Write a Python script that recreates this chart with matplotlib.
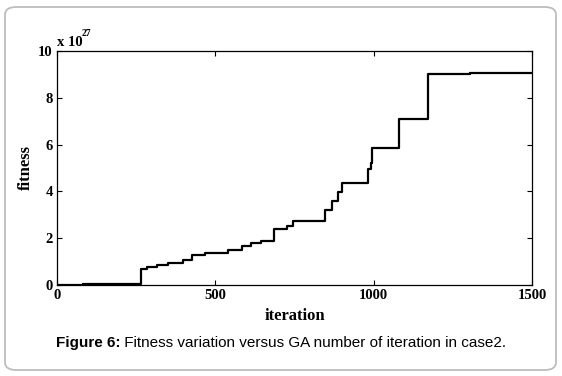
import matplotlib
matplotlib.use("Agg")
import matplotlib.pyplot as plt
from matplotlib.patches import FancyBboxPatch

# step data: iteration at which value changes, fitness value (x 1e27)
step_iters = [0, 83, 265, 285, 315, 350, 398, 425, 467, 541, 583, 614, 644,
              685, 725, 744, 845, 867, 888, 901, 981, 990, 994, 1080, 1172, 1303, 1500]
step_vals = [0.0, 0.05, 0.67, 0.78, 0.85, 0.92, 1.07, 1.28, 1.36, 1.50, 1.65, 1.78, 1.88,
             2.38, 2.52, 2.75, 3.20, 3.58, 3.97, 4.35, 4.95, 5.20, 5.84, 7.10, 9.02, 9.07, 9.07]

xticks = [0, 500, 1000, 1500]
yticks = [0, 2, 4, 6, 8, 10]

W, H = 562, 376
fig = plt.figure(figsize=(W / 100, H / 100), dpi=100)

# rounded border frame
border = FancyBboxPatch((5 / W, 6 / H), (W - 11) / W, (H - 13) / H,
                        boxstyle="round,pad=0,rounding_size=0.02",
                        transform=fig.transFigure, facecolor="white",
                        edgecolor="#bdbdbd", lw=1.3, zorder=-10)
fig.patches.append(border)

ax = fig.add_axes([57 / W, 1 - 285 / H, (532 - 57) / W, (285 - 51) / H], zorder=5)
ax.set_facecolor("none")
ax.step(step_iters, step_vals, where="post", color="black", lw=1.6)
ax.set_xlim(0, 1500)
ax.set_ylim(0, 10)
ax.set_xticks(xticks)
ax.set_yticks(yticks)
serif = "Liberation Serif"
ax.set_xticklabels([str(t) for t in xticks], fontfamily=serif, fontweight="bold", fontsize=10.5)
ax.set_yticklabels([str(t) for t in yticks], fontfamily=serif, fontweight="bold", fontsize=10.5)
ax.tick_params(direction="in", length=3.8, width=0.8, top=True, right=True, pad=3)
for s in ax.spines.values():
    s.set_linewidth(0.9)
ax.set_xlabel("iteration", fontfamily=serif, fontweight="bold", fontsize=12, labelpad=4)
ax.set_ylabel("fitness", fontfamily=serif, fontweight="bold", fontsize=12, labelpad=3)

# offset text
fig.text(57 / W, 1 - 42 / H, "x 10", fontfamily=serif, fontweight="bold", fontsize=10.5,
         ha="left", va="center")
fig.text(82 / W, 1 - 33 / H, "27", fontfamily=serif, fontweight="bold", fontsize=7,
         ha="left", va="center")

# caption
fig.canvas.draw()
r = fig.canvas.get_renderer()
t1 = fig.text(0, 1 - 343 / H, "Figure 6:", fontfamily="Liberation Sans", fontweight="bold",
              fontsize=11, ha="left", va="center")
t2 = fig.text(0, 1 - 343 / H, " Fitness variation versus GA number of iteration in case2.",
              fontfamily="Liberation Sans", fontsize=11, ha="left", va="center")
w1 = t1.get_window_extent(r).width
w2 = t2.get_window_extent(r).width
x0 = (W / 2 - (w1 + w2) / 2)
t1.set_x(x0 / W)
t2.set_x((x0 + w1) / W)

fig.savefig("out.png", dpi=100)
